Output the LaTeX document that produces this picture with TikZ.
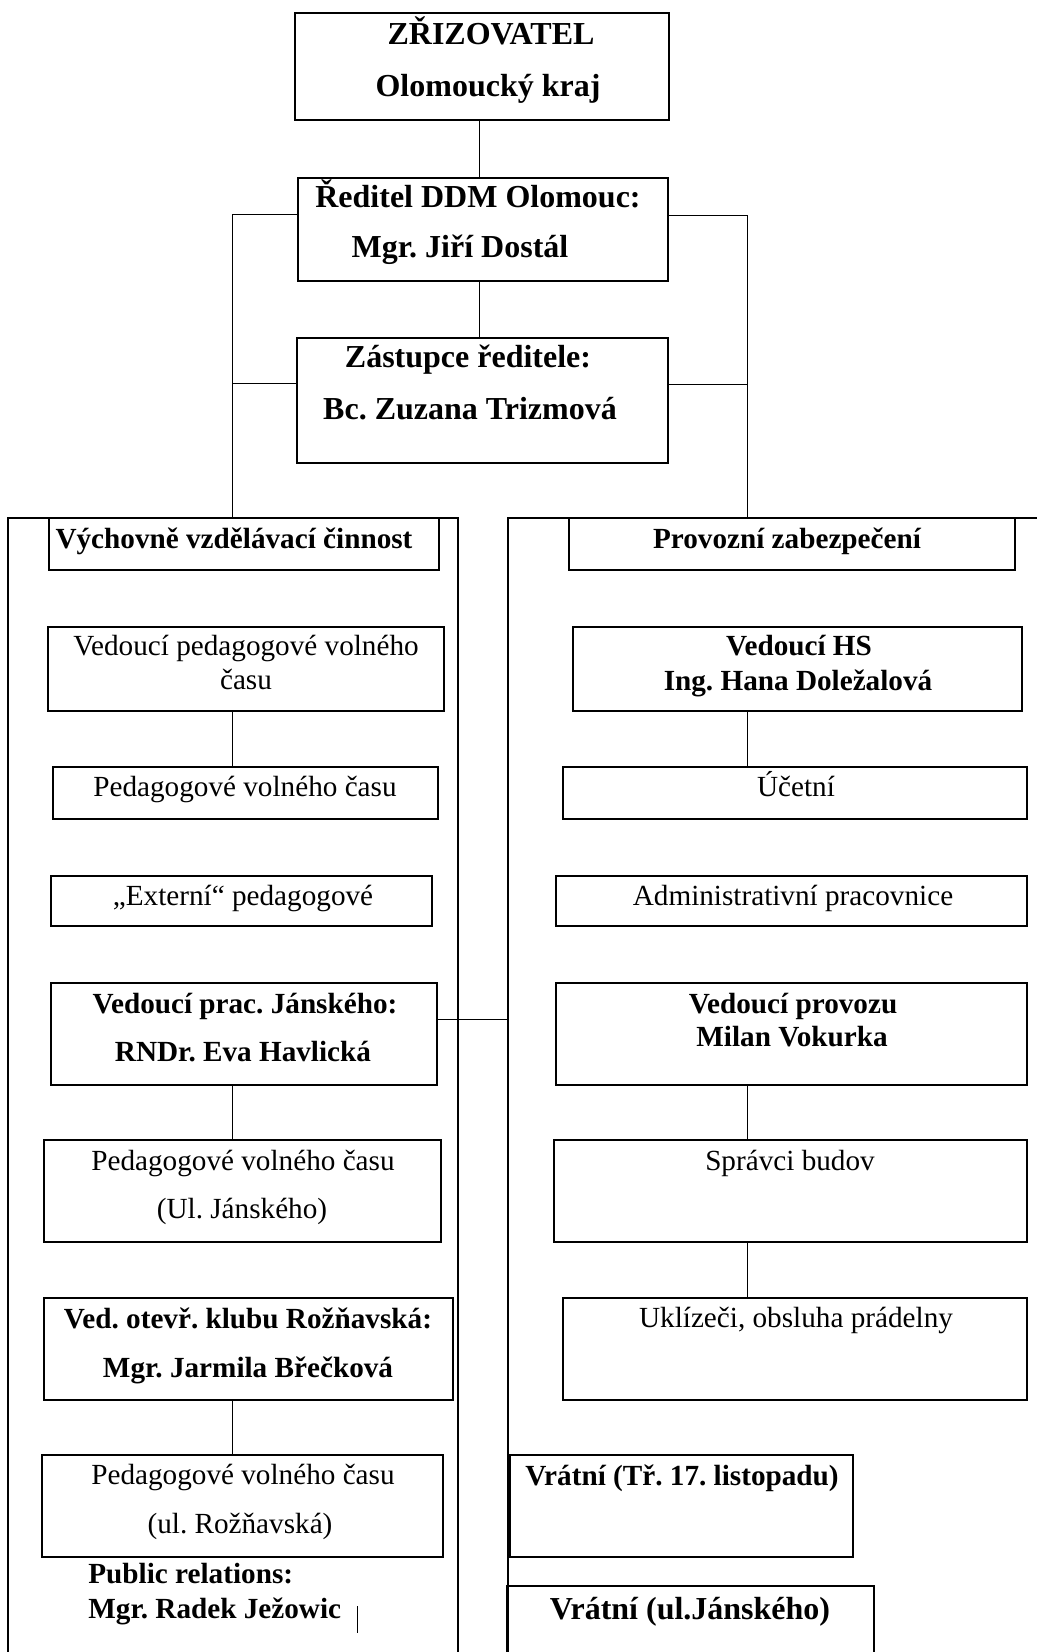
\documentclass[tikz,border=0pt]{standalone}
\usepackage{fontspec}
\setmainfont{Liberation Serif}
\usetikzlibrary{fit}
\frenchspacing
\begin{document}
\frenchspacing
\begin{tikzpicture}[x=0.5pt,y=-0.5pt,
  bx/.style={draw, line width=0.8pt, inner sep=0pt},
  big/.style={draw, line width=0.7pt, inner sep=0pt},
  ln/.style={line width=0.5pt},
  tb/.style={anchor=base, inner sep=0pt, font=\fontsize{16}{19}\selectfont\bfseries\frenchspacing},
  tm/.style={anchor=base, inner sep=0pt, font=\fontsize{14.6}{17}\selectfont\bfseries\frenchspacing},
  tr/.style={anchor=base, inner sep=0pt, font=\fontsize{14.6}{17}\selectfont\frenchspacing},
]
\useasboundingbox (0,0) rectangle (1037,1652);
\clip (0,0) rectangle (1037,1652);

% top
\node[bx, fit={(295,13)(669,120)}] (zriz) {};
\node[tb] (zrizA) at (491,45) {ZŘIZOVATEL};
\node[tb] (zrizB) at (488,97) {Olomoucký kraj};

\node[bx, fit={(298,178)(668,281)}] (red) {};
\node[tb] (redA) at (478,208) {Ředitel DDM Olomouc:};
\node[tb] (redB) at (460,258) {Mgr. Jiří Dostál};

\node[bx, fit={(297,338)(668,463)}] (zast) {};
\node[tb] (zastA) at (468,368) {Zástupce ředitele:};
\node[tb] (zastB) at (470,420) {Bc. Zuzana Trizmová};

\coordinate (cx) at (479,0);
\draw[ln] (cx |- zriz.south) -- (cx |- red.north);
\draw[ln] (cx |- red.south) -- (cx |- zast.north);

% big column boxes
\node[big, fit={(8,518)(458,1700)}] (vyc) {};
\node[big, fit={(508,518)(1100,1700)}] (prov) {};

\coordinate (L1) at (232,215);
\coordinate (L2) at (232,384);
\coordinate (R1) at (747,216);
\coordinate (R2) at (747,385);
\draw[ln] (red.west |- L1) -- (L1) -- (L1 |- vyc.north);
\draw[ln] (zast.west |- L2) -- (L2);
\draw[ln] (red.east |- R1) -- (R1) -- (R1 |- prov.north);
\draw[ln] (zast.east |- R2) -- (R2);

% headers
\node[bx, fit={(49,518)(439,570)}] (vycH) {};
\node[tm] (vycHt) at (234,548) {Výchovně vzdělávací činnost};
\node[bx, fit={(569,518)(1015,570)}] (provH) {};
\node[tm] (provHt) at (787,548) {Provozní zabezpečení};

% left column
\node[bx, fit={(48,627)(444,711)}] (vpvc) {};
\node[tr] (vpvcA) at (246,655) {Vedoucí pedagogové volného};
\node[tr] (vpvcB) at (246,689) {času};
\node[bx, fit={(53,767)(438,819)}] (pvc1) {};
\node[tr] (pvc1t) at (245,796) {Pedagogové volného času};
\draw[ln] (vpvc.south -| L1) -- (pvc1.north -| L1);

\node[bx, fit={(51,876)(432,926)}] (ext) {};
\node[tr] (extt) at (243,905) {„Externí“ pedagogové};

\node[bx, fit={(51,983)(437,1085)}] (vjan) {};
\node[tm] (vjanA) at (245,1013) {Vedoucí prac. Jánského:};
\node[tm] (vjanB) at (243,1061) {RNDr. Eva Havlická};
\node[bx, fit={(44,1140)(441,1242)}] (pjan) {};
\node[tr] (pjanA) at (243,1170) {Pedagogové volného času};
\node[tr] (pjanB) at (242,1218) {(Ul. Jánského)};
\draw[ln] (vjan.south -| L1) -- (pjan.north -| L1);

\node[bx, fit={(44,1298)(453,1400)}] (vroz) {};
\node[tm] (vrozA) at (248,1328) {Ved. otevř. klubu Rožňavská:};
\node[tm] (vrozB) at (248,1377) {Mgr. Jarmila Břečková};
\node[bx, fit={(42,1455)(443,1557)}] (proz) {};
\node[tr] (prozA) at (243,1484) {Pedagogové volného času};
\node[tr] (prozB) at (240,1533) {(ul. Rožňavská)};
\draw[ln] (vroz.south -| L1) -- (proz.north -| L1);

\node[tm, anchor=base west] (pr1) at (88,1583) {Public relations:};
\node[tm, anchor=base west] (pr2) at (88,1618) {Mgr. Radek Ježowic};
\coordinate (prbar) at (357,1606);
\draw[ln] (prbar) -- ++(0,27);

\coordinate (J) at (470,1019);
\draw[ln] (vjan.east |- J) -- (prov.west |- J);

% right column
\node[bx, fit={(573,627)(1022,711)}] (vhs) {};
\node[tm] (vhsA) at (799,655) {Vedoucí HS};
\node[tm] (vhsB) at (798,690) {Ing. Hana Doležalová};
\node[bx, fit={(563,767)(1027,819)}] (uc) {};
\node[tr] (uct) at (796,796) {Účetní};
\draw[ln] (vhs.south -| R1) -- (uc.north -| R1);

\node[bx, fit={(556,876)(1027,926)}] (adm) {};
\node[tr] (admt) at (793,905) {Administrativní pracovnice};

\node[bx, fit={(556,983)(1027,1085)}] (vprov) {};
\node[tm] (vprovA) at (793,1013) {Vedoucí provozu};
\node[tm] (vprovB) at (792,1046) {Milan Vokurka};
\node[bx, fit={(554,1140)(1027,1242)}] (spr) {};
\node[tr] (sprt) at (790,1170) {Správci budov};
\draw[ln] (vprov.south -| R1) -- (spr.north -| R1);
\node[bx, fit={(563,1298)(1027,1400)}] (ukl) {};
\node[tr] (uklt) at (796,1327) {Uklízeči, obsluha prádelny};
\draw[ln] (spr.south -| R1) -- (ukl.north -| R1);

\node[bx, fit={(510,1455)(853,1557)}] (vr1) {};
\node[tm] (vr1t) at (682,1485) {Vrátní (Tř. 17. listopadu)};
\node[bx, fit={(507,1586)(874,1700)}] (vr2) {};
\node[tb] (vr2t) at (690,1619) {Vrátní (ul.Jánského)};
\end{tikzpicture}
\end{document}
